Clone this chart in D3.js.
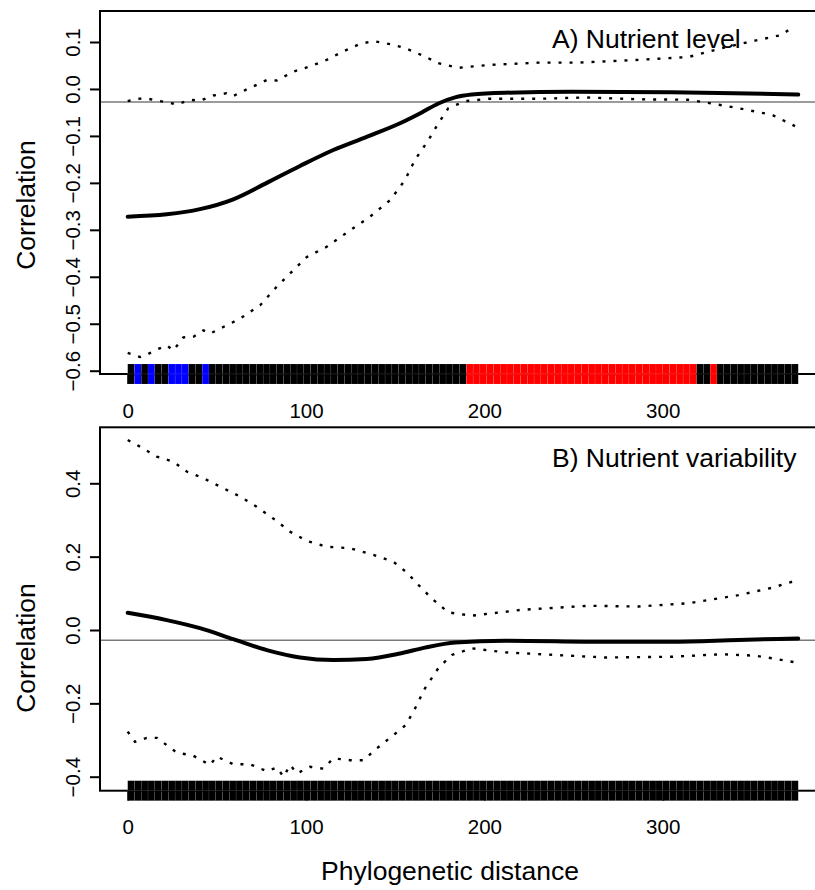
<!DOCTYPE html>
<html><head><meta charset="utf-8">
<script src="https://cdn.jsdelivr.net/npm/d3@7"></script>
<style>
body{margin:0;background:#fff}
svg{display:block}
text{font-family:"Liberation Sans",Arial,Helvetica,sans-serif;fill:#000}
</style>
</head><body>
<svg id="chart" width="815" height="890"></svg>
<script>
// ---------- data ----------
const xTickValues = [0, 100, 200, 300];
const aTickValues = [-0.6, -0.5, -0.4, -0.3, -0.2, -0.1, 0.0, 0.1];
const bTickValues = [-0.4, -0.2, 0.0, 0.2, 0.4];
const maxDistance = 376;
const expectedCorr = -0.0278;
const panelTitles = ["A) Nutrient level", "B) Nutrient variability"];
const xLabel = "Phylogenetic distance";
const yLabel = "Correlation";

// significance of each of the 99 distance classes (k = n.s., b = negative, r = positive)
const aSignif = ("kbkbkkbbbkkb" +
  "kkkkkkkkkk" + "kkkkkkkkkk" + "kkkkkkkkkk" + "kkkkkkkk" +
  "rrrrrrrrrr" + "rrrrrrrrrr" + "rrrrrrrrrr" + "rrrr" +
  "kkr" +
  "kkkkkkkkkkkk").split("");
const bSignif = ("kkkkkkkkkk" + "kkkkkkkkkk" + "kkkkkkkkkk" + "kkkkkkkkkk" + "kkkkkkkkkk" +
  "kkkkkkkkkk" + "kkkkkkkkkk" + "kkkkkkkkkk" + "kkkkkkkkkk" + "kkkkkkkkk").split("");

// Panel A: nutrient level
const aMean = [[0,-0.272],[21.9,-0.267],[40.5,-0.256],[59.2,-0.235],[78,-0.200],[96.6,-0.164],
  [115.3,-0.130],[134,-0.102],[152.7,-0.073],[164.9,-0.050],[174.2,-0.031],[183.6,-0.018],
  [192.9,-0.012],[211.6,-0.008],[249,-0.006],[305.1,-0.007],[340,-0.009],[376,-0.012]];
const aUpper = [[0,-0.026],[5,-0.021],[10.6,-0.020],[16.3,-0.025],[22,-0.028],[27.5,-0.033],[34.9,-0.023],
  [40.5,-0.025],[48,-0.014],[55.5,-0.009],[59.2,-0.015],[66.7,-0.001],[78,0.019],[83.6,0.018],[92.9,0.037],
  [102.2,0.048],[111.6,0.062],[120.9,0.080],[130.3,0.096],[137.7,0.102],[149,0.094],[155.5,0.087],
  [166.7,0.069],[174.2,0.055],[185.4,0.045],[202.2,0.051],[230.3,0.056],[252.7,0.056],[286.4,0.062],
  [314.4,0.068],[333.1,0.087],[351.8,0.103],[366.8,0.115],[372.4,0.131]];
const aLower = [[0,-0.562],[6.9,-0.571],[10.6,-0.566],[16.3,-0.555],[21.9,-0.546],[25.6,-0.557],
  [31.2,-0.529],[36.8,-0.528],[42.4,-0.514],[46.2,-0.521],[53.6,-0.507],[63,-0.489],[74.2,-0.461],
  [83.6,-0.421],[92.9,-0.386],[100.4,-0.358],[111.6,-0.336],[124.7,-0.301],[135.9,-0.272],[147.1,-0.237],
  [155.5,-0.194],[161.1,-0.151],[168.6,-0.109],[174.2,-0.073],[179.8,-0.041],[189.2,-0.026],
  [202.2,-0.021],[230.3,-0.021],[256.5,-0.018],[286.4,-0.022],[314.4,-0.023],[327.5,-0.031],
  [342.5,-0.041],[361.2,-0.055],[374.2,-0.079]];

// Panel B: nutrient variability
const bMean = [[0,0.047],[21.9,0.027],[40.5,0.005],[59.2,-0.025],[78,-0.055],[96.6,-0.075],
  [115.3,-0.082],[134,-0.079],[152.7,-0.064],[166.7,-0.048],[183.6,-0.034],[211.6,-0.029],
  [267.7,-0.032],[305.1,-0.032],[342.5,-0.027],[376,-0.023]];
const bUpper = [[0,0.518],[6.9,0.500],[16.3,0.473],[25.6,0.459],[33.1,0.432],[42.4,0.414],[51.8,0.391],
  [63,0.364],[72.3,0.336],[83.6,0.297],[91.1,0.268],[100.4,0.243],[111.6,0.227],[124.7,0.223],
  [137.8,0.205],[149,0.186],[156.5,0.157],[163,0.123],[170.5,0.086],[179.8,0.048],[192.9,0.039],
  [220.9,0.055],[258.4,0.066],[286.4,0.064],[314.4,0.073],[342.5,0.095],[361.2,0.115],[374.2,0.134]];
const bLower = [[0,-0.277],[4.1,-0.305],[10.6,-0.294],[16.3,-0.294],[21.9,-0.314],[27.5,-0.334],
  [36.8,-0.343],[46.2,-0.368],[49.9,-0.345],[59.2,-0.366],[68.5,-0.366],[78,-0.385],[83.6,-0.375],
  [87.4,-0.400],[91.1,-0.368],[94.9,-0.391],[102.3,-0.373],[109.7,-0.378],[115.3,-0.350],[124.7,-0.355],
  [132.2,-0.355],[139.6,-0.323],[147.1,-0.294],[156,-0.259],[161.1,-0.214],[166.7,-0.159],[174.2,-0.104],
  [181.7,-0.068],[192.9,-0.050],[211.6,-0.061],[239.6,-0.068],[267.7,-0.075],[305.1,-0.073],
  [333.1,-0.066],[351.8,-0.070],[361.2,-0.077],[374.2,-0.088]];

const signifColor = {k:"#000000", b:"#0000ff", r:"#ff0000"};

// ---------- layout ----------
const svg = d3.select("#chart");
const x = d3.scaleLinear().domain([0, 300]).range([127.7, 662.7]);
const boxLeft = 100, boxRight = 825;

const panels = [
  {title: panelTitles[0], ticks: aTickValues, mean: aMean, upper: aUpper, lower: aLower, signif: aSignif,
   y: d3.scaleLinear().domain([-0.6, 0.1]).range([370.7, 42]), top: 11, bottom: 374, labelY: 205, titleY: 48.3},
  {title: panelTitles[1], ticks: bTickValues, mean: bMean, upper: bUpper, lower: bLower, signif: bSignif,
   y: d3.scaleLinear().domain([-0.4, 0.4]).range([776.7, 483.3]), top: 427.3, bottom: 790.7, labelY: 648, titleY: 466.7}
];

const fmt = d3.format(".1f");

panels.forEach((p, pi) => {
  const g = svg.append("g");
  const y = p.y;

  // reference line (expected value)
  g.append("line").attr("x1", boxLeft).attr("x2", boxRight)
    .attr("y1", y(expectedCorr)).attr("y2", y(expectedCorr))
    .attr("stroke", "#7a7a7a").attr("stroke-width", 1.6);

  // confidence envelope (dotted)
  const lin = d3.line().x(d => x(d[0])).y(d => y(d[1]));
  [p.upper, p.lower].forEach(s => {
    g.append("path").attr("d", lin(s)).attr("fill", "none")
      .attr("stroke", "#000").attr("stroke-width", 2.4)
      .attr("stroke-dasharray", "3 8");
  });

  // mean correlogram
  const smooth = d3.line().x(d => x(d[0])).y(d => y(d[1])).curve(d3.curveMonotoneX);
  g.append("path").attr("d", smooth(p.mean)).attr("fill", "none")
    .attr("stroke", "#000").attr("stroke-width", 4).attr("stroke-linecap", "round");

  // box
  g.append("rect").attr("x", boxLeft).attr("y", p.top)
    .attr("width", boxRight - boxLeft).attr("height", p.bottom - p.top)
    .attr("fill", "none").attr("stroke", "#000").attr("stroke-width", 2);

  // y axis
  const ya = g.append("g").attr("transform", `translate(${boxLeft},0)`)
    .call(d3.axisLeft(y).tickValues(p.ticks).tickSize(10).tickFormat(fmt));
  ya.select(".domain").remove();
  ya.selectAll(".tick line").attr("stroke-width", 2);
  ya.selectAll(".tick text")
    .attr("x", null).attr("dy", null)
    .attr("transform", "translate(-20,0) rotate(-90)")
    .attr("text-anchor", "middle")
    .style("font-size", "20.5px").style("font-family", '"Liberation Sans",Arial,sans-serif');

  // x axis
  const xa = g.append("g").attr("transform", `translate(0,${p.bottom})`)
    .call(d3.axisBottom(x).tickValues(xTickValues).tickSize(10).tickSizeOuter(0).tickPadding(19).tickFormat(d3.format("d")));
  xa.select(".domain").attr("stroke-width", 2);
  xa.selectAll(".tick line").attr("stroke-width", 2);
  xa.selectAll(".tick text")
    .style("font-size", "20.5px").style("font-family", '"Liberation Sans",Arial,sans-serif');

  // significance bar
  const cellW = maxDistance / p.signif.length;
  const barG = g.append("g");
  const halves = [[p.bottom - 10, p.bottom], [p.bottom, p.bottom + 10]];
  halves.forEach(h => {
    barG.selectAll(null).data(p.signif).join("rect")
      .attr("x", (d, i) => x(i * cellW))
      .attr("width", (d, i) => x((i + 1) * cellW) - x(i * cellW))
      .attr("y", h[0]).attr("height", h[1] - h[0])
      .attr("fill", d => signifColor[d])
      .attr("stroke", "rgba(255,255,255,0.16)").attr("stroke-width", 0.5);
  });

  // y label
  g.append("text").attr("transform", `translate(35,${p.labelY}) rotate(-90)`)
    .attr("text-anchor", "middle").style("font-size", "26.5px").text(yLabel);

  // panel title
  g.append("text").attr("x", 552).attr("y", p.titleY)
    .style("font-size", "26.5px").text(p.title);
});

svg.append("text").attr("x", 450).attr("y", 880).attr("text-anchor", "middle")
  .style("font-size", "26.5px").text(xLabel);
</script>
</body></html>
